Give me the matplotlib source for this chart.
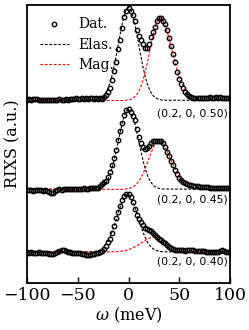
import numpy as np
import matplotlib
matplotlib.use("Agg")
import matplotlib.pyplot as plt

# ---------------- data (heights in arbitrary units) ----------------
omega = np.arange(-100, 101, 2)

dat_050 = [1.0, 1.5, 1.0, 1.5, 2.0, 1.5, 1.0, 1.0, 0.5, 1.0,
           1.0, 0.5, 1.0, 1.0, 0.5, 1.0, 1.5, 1.0, 1.0, 1.5,
           1.0, 1.5, 2.0, 2.0, 2.5, 2.0, 2.0, 2.5, 2.0, 2.5,
           2.0, 2.5, 2.5, 2.0, 2.5, 2.0, 2.5, 2.0, 4.0, 6.0,
           9.0, 13.0, 21.0, 30.0, 39.0, 52.0, 61.0, 73.0, 84.0, 90.0,
           92.5, 90.0, 85.5, 80.0, 71.0, 65.0, 61.0, 57.0, 52.5, 53.0,
           57.0, 64.0, 68.5, 74.0, 79.5, 83.0, 83.0, 80.0, 76.5, 71.0,
           63.0, 55.0, 46.5, 38.5, 29.0, 22.0, 17.0, 12.5, 9.0, 6.5,
           5.0, 4.0, 3.0, 3.0, 2.5, 2.5, 2.5, 3.0, 3.0, 3.0,
           3.5, 3.0, 3.0, 3.5, 3.0, 3.5, 3.0, 3.0, 2.5, 3.0,
           2.5]

dat_045 = [-1.0, -0.5, -1.0, -1.5, -1.0, -0.5, -1.0, -1.0, -1.5, -1.0,
           -1.5, -2.5, -3.5, -3.5, -2.0, -0.5, 0.0, -0.5, 0.0, 0.0,
           0.5, 0.0, 0.0, 0.5, 0.5, 0.5, 0.0, 0.5, 1.0, 0.5,
           0.5, 1.0, 1.0, 1.0, 1.5, 1.5, 3.3, 5.0, 7.0, 8.5,
           12.5, 17.0, 24.0, 31.0, 39.0, 49.0, 58.0, 66.0, 74.5, 79.0,
           80.5, 77.0, 73.5, 69.0, 60.0, 52.0, 46.5, 42.0, 40.0, 41.0,
           43.5, 46.5, 48.5, 48.5, 48.5, 48.5, 48.5, 46.5, 42.5, 37.5,
           33.0, 28.5, 24.0, 19.0, 15.5, 11.5, 9.0, 7.5, 6.0, 5.0,
           4.5, 4.0, 3.5, 3.3, 3.0, 2.6, 2.3, 2.0, 2.0, 2.0,
           1.5, 1.5, 1.0, 1.5, 1.0, 1.0, 1.0, 1.5, 1.0, 1.0,
           1.0]

dat_040 = [0.0, -0.5, 0.0, -0.5, -1.0, -0.5, 0.0, -0.5, -1.0, -0.5,
           -1.0, -1.5, -2.0, -1.5, -0.5, 0.5, 1.5, 2.0, 2.0, 1.0,
           0.5, 0.0, -0.5, -1.0, -0.5, -0.5, -1.0, -1.5, -2.0, -2.5,
           -3.0, -2.5, -2.0, -1.5, -1.0, -0.5, 0.0, 1.5, 3.5, 6.5,
           10.0, 13.5, 19.0, 26.0, 34.0, 40.0, 46.0, 52.0, 56.0, 58.0,
           58.5, 55.0, 50.0, 43.5, 37.0, 33.5, 30.5, 27.0, 24.5, 23.5,
           22.5, 21.0, 19.0, 17.0, 15.0, 13.5, 12.5, 10.5, 9.0, 7.0,
           5.5, 4.5, 3.5, 2.5, 2.0, 2.0, 2.0, 2.0, 1.5, 2.0,
           2.0, 2.0, 2.0, 1.5, 1.5, 1.0, 1.0, 1.0, 0.5, 0.5,
           0.5, 0.0, 0.0, 0.0, 0.5, 1.5, 2.0, 1.5, 0.5, 0.0,
           0.5]

# elastic fit curves (grid: -100, -34..34 step 2, 100)
elas_w = np.r_[-100, np.arange(-34, 35, 2), 100]
elas_050 = [0, 0.3, 0.6, 1.0, 1.9, 3.2, 5.2, 8.3, 12.6, 18.4, 25.9, 34.9, 45.3, 56.4, 67.5,
            77.7, 85.8, 91.2, 93.0, 91.2, 85.8, 77.7, 67.5, 56.4, 45.3, 34.9, 25.9, 18.4,
            12.6, 8.3, 5.2, 3.2, 1.9, 1.0, 0.6, 0.3, 0]
elas_045 = [0, 0.25, 0.5, 0.9, 1.6, 2.7, 4.5, 7.1, 10.8, 15.8, 22.2, 30.0, 39.0, 48.5, 58.1,
            66.8, 73.8, 78.4, 80.0, 78.4, 73.8, 66.8, 58.1, 48.5, 39.0, 30.0, 22.2, 15.8,
            10.8, 7.1, 4.5, 2.7, 1.6, 0.9, 0.5, 0.25, 0]
elas_040 = [0, 0.4, 0.7, 1.3, 2.1, 3.4, 5.2, 7.7, 11.1, 15.4, 20.5, 26.5, 32.9, 39.5, 45.6,
            50.9, 54.7, 56.7, 56.7, 54.7, 50.9, 45.6, 39.5, 32.9, 26.5, 20.5, 15.4, 11.1,
            7.7, 5.2, 3.4, 2.1, 1.3, 0.7, 0.4, 0.2, 0]

# magnetic fit curves (grid: -100, -20..70 step 2, 100)
mag_w = np.r_[-100, np.arange(-20, 71, 2), 100]
mag_050 = [0, 0, 0, 0, 0, 0, 0, 0, 0, 0.2, 0.3, 0.7, 1.2, 2.1, 3.6, 5.8, 9.0, 13.5, 19.3,
           26.6, 35.2, 44.8, 54.7, 64.2, 72.3, 78.4, 81.6, 81.7, 79.5, 75.2, 69.2, 61.9,
           53.9, 45.6, 37.5, 30.1, 23.5, 17.7, 13.0, 9.3, 6.5, 4.4, 2.9, 1.9, 1.2, 0.7, 0.4, 0]
mag_045 = [0, 0, 0, 0, 0, 0, 0, 0, 0, 0.2, 0.4, 0.8, 1.4, 2.2, 3.5, 5.3, 7.8, 11.0, 15.0,
           19.7, 25.0, 30.5, 35.9, 40.7, 44.6, 47.1, 48.0, 47.3, 45.4, 42.3, 38.4, 33.9,
           29.1, 24.3, 19.7, 15.6, 12.0, 8.9, 6.5, 4.6, 3.2, 2.1, 1.4, 0.9, 0.5, 0.3, 0.2, 0]
mag_040 = [0, 0.1, 0.1, 0.1, 0.2, 0.3, 0.5, 0.7, 1.0, 1.3, 1.8, 2.4, 3.1, 4.0, 5.0, 6.2,
           7.4, 8.7, 10.1, 11.4, 12.6, 13.7, 14.5, 15.1, 15.5, 15.4, 14.8, 13.7, 12.1, 10.3,
           8.5, 6.7, 5.0, 3.7, 2.5, 1.7, 1.1, 0.7, 0.4, 0.2, 0.1, 0, 0, 0, 0, 0, 0, 0]

offsets = [182.5, 93.7, 31.0]
q_labels = ["(0.2, 0, 0.50)", "(0.2, 0, 0.45)", "(0.2, 0, 0.40)"]
label_y = [170.0, 84.0, 21.0]

data_sets = [dat_050, dat_045, dat_040]
elas_sets = [elas_050, elas_045, elas_040]
mag_sets = [mag_050, mag_045, mag_040]

xticks = [-100, -50, 0, 50, 100]

# ---------------- plotting ----------------
plt.rcParams['font.family'] = 'serif'
plt.rcParams['font.serif'] = ['DejaVu Serif']
plt.rcParams['mathtext.fontset'] = 'dejavuserif'

fig = plt.figure(figsize=(2.49, 3.30), dpi=100)
ax = fig.add_axes([27 / 249, 1 - 283 / 330, 203 / 249, 278 / 330])

dash = (0, (2.5, 1.5))
for i in range(3):
    off = offsets[i]
    ax.plot(elas_w, np.asarray(elas_sets[i]) + off, color='k', lw=0.8,
            ls=dash, zorder=2, label='Elas.' if i == 0 else None)
    ax.plot(mag_w, np.asarray(mag_sets[i]) + off, color='red', lw=0.8,
            ls=dash, zorder=2, label='Mag.' if i == 0 else None)
    ax.plot(omega, np.asarray(data_sets[i]) + off, ls='none', marker='o',
            mfc='none', mec='k', ms=3.2, mew=1.0, zorder=3,
            label='Dat.' if i == 0 else None)
    ax.text(98, label_y[i], q_labels[i], ha='right', va='center',
            fontsize=7.8, family='DejaVu Sans')

ax.set_xlim(-100, 100)
ax.set_ylim(0, 278)
ax.set_xticks(xticks)
ax.set_yticks([])
ax.tick_params(axis='x', direction='in', length=4, width=1.0, labelsize=12.5, pad=3)
for s in ax.spines.values():
    s.set_linewidth(1.3)
ax.set_xlabel(r'$\omega$ (meV)', fontsize=11.5, labelpad=1)
ax.set_ylabel('RIXS (a.u.)', fontsize=11.5, labelpad=4)

h, l = ax.get_legend_handles_labels()
order = [l.index('Dat.'), l.index('Elas.'), l.index('Mag.')]
ax.legend([h[k] for k in order], [l[k] for k in order], loc='upper left',
          frameon=False, fontsize=10, numpoints=1, handlelength=2.1,
          handletextpad=0.7, labelspacing=0.45, borderaxespad=0.5)

fig.savefig('out.png', dpi=100)
